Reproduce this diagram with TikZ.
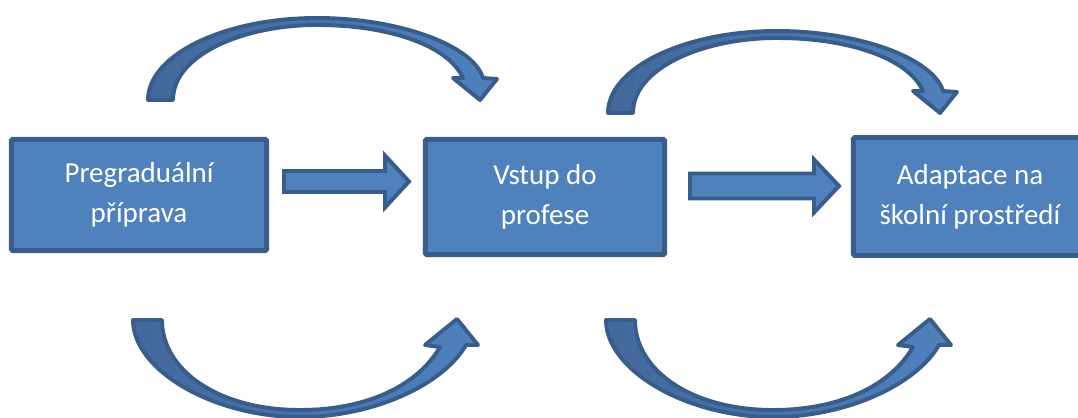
\documentclass[tikz,border=0pt]{standalone}
\usepackage{fontspec}
\newfontfamily\boxfont{Carlito}
\usetikzlibrary{positioning}
\definecolor{adBlue}{HTML}{4F81BD}
\definecolor{adEdge}{HTML}{385D8A}
\definecolor{adDeep}{HTML}{43689B}

\begin{document}
\begin{tikzpicture}[x=0.025cm,y=-0.025cm,
  stage/.style={draw=adEdge,fill=adBlue,line width=3.5pt,rounded corners=1pt,
    text=white,align=center,inner sep=0pt,
    font=\boxfont\fontsize{20.6pt}{28.5pt}\selectfont},
  flow/.style={draw=adEdge,fill=adBlue,line width=2.8pt,line join=miter},
  curvearrow/.style={draw=adEdge,line width=2.8pt,line join=round,
    left color=adDeep,right color=adBlue}]
\clip (0,0) rectangle (1078,418);
% the three stages
\node[stage,minimum width=6.38cm,minimum height=2.78cm] (prep) at (139,195) {Pregraduální\\příprava};
\node[stage,minimum width=5.98cm,minimum height=2.88cm] (entry) at (545,197) {Vstup do\\profese};
\node[stage,minimum width=5.83cm,minimum height=2.95cm] (adapt) at (970,196.5) {Adaptace na\\školní prostředí};
% straight block arrows
\foreach \xa/\xb/\xc/\yc/\sh/\hd in {284/385/409/181.5/10.5/26, 690/814/839/186/12.5/26.5}
  \draw[flow] (\xa,\yc-\sh) -- (\xb,\yc-\sh) -- (\xb,\yc-\hd) -- (\xc,\yc)
    -- (\xb,\yc+\hd) -- (\xb,\yc+\sh) -- (\xa,\yc+\sh) -- cycle;
% curved arrows above
\foreach \dx/\dy in {148/100, 608/113}{
 \begin{scope}[shift={(\dx,\dy)}]
  \draw[curvearrow] (0,0) .. controls (0,-45) and (76,-82) .. (169,-82)
    .. controls (250,-82) and (325,-55) .. (335,-22)
    -- (349,-21) -- (332,0) -- (305,-22) -- (315,-22)
    .. controls (300,-55) and (240,-75) .. (169,-75)
    .. controls (95,-75) and (25,-45) .. (25,0) -- cycle;
 \end{scope}
}
% curved arrows below
\foreach \dx in {133,606}{
 \begin{scope}[shift={(\dx,320)}]
  \draw[curvearrow] (0,0) .. controls (0,50) and (80,97) .. (167,97)
    .. controls (240,97) and (310,65) .. (333,25)
    -- (345,25) -- (324,-1) -- (292,25) -- (307,27)
    .. controls (285,65) and (235,90) .. (167,90)
    .. controls (85,90) and (29,50) .. (29,0) -- cycle;
 \end{scope}
}
\end{tikzpicture}
\end{document}
